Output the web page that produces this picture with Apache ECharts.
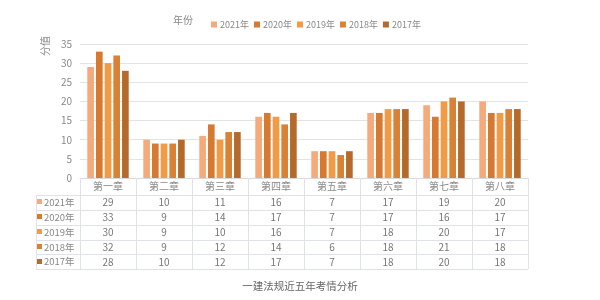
<!DOCTYPE html>
<html>
<head>
<meta charset="utf-8">
<script src="https://cdn.jsdelivr.net/npm/echarts@6/dist/echarts.min.js"></script>
<style>html,body{margin:0;padding:0;background:#fff;}#c{width:600px;height:300px;}</style>
</head>
<body>
<div id="c"></div>
<script>
const categories = ['第一章','第二章','第三章','第四章','第五章','第六章','第七章','第八章'];
const years = ['2021年','2020年','2019年','2018年','2017年'];
const s2021 = [29,10,11,16,7,17,19,20];
const s2020 = [33,9,14,17,7,17,16,17];
const s2019 = [30,9,10,16,7,18,20,17];
const s2018 = [32,9,12,14,6,18,21,18];
const s2017 = [28,10,12,17,7,18,20,18];
const seriesValues = [s2021, s2020, s2019, s2018, s2017];
const colors = ['#F5AA7C','#D77A30','#F39A45','#DA8138','#B56A2C'];
const yMax = 35, yStep = 5;
const chartTitle = '一建法规近五年考情分析';
const legendTitle = '年份';
const yName = '分值';

const font = '"Noto Sans CJK SC", "Noto Sans", sans-serif';
const GL = 80, GR = 528, GT = 44, GB = 178;
const rowTop = 195, rowH = 14.85, tableLeft = 36;

const chart = echarts.init(document.getElementById('c'));
const graphics = [];
graphics.push({type:'text', left:173, top:15, style:{text:legendTitle, fill:'#888', font:'10px '+font}});
graphics.push({type:'text', x:40, y:56, rotation:Math.PI/2, style:{text:yName, fill:'#888', font:'10px '+font}});
graphics.push({type:'text', left:'center', top:281, style:{text:chartTitle, fill:'#666', font:'10.5px '+font}});
for (let i = 0; i <= years.length; i++) {
  const y = Math.round(rowTop + i*rowH) + 0.5;
  graphics.push({type:'line', shape:{x1:tableLeft, y1:y, x2:GR, y2:y}, style:{stroke:'#dfe3e8', lineWidth:1}});
}
graphics.push({type:'line', shape:{x1:tableLeft+0.5, y1:rowTop, x2:tableLeft+0.5, y2:Math.round(rowTop+years.length*rowH)+0.5}, style:{stroke:'#dfe3e8', lineWidth:1}});
years.forEach((yr, i) => {
  const cy = rowTop + (i+0.5)*rowH;
  graphics.push({type:'rect', shape:{x:37, y:Math.round(cy-3), width:5, height:5}, style:{fill:colors[i]}});
  graphics.push({type:'text', x:44, y:cy, style:{text:yr, fill:'#888', font:'9.5px '+font, textVerticalAlign:'middle'}});
});

const option = {
  animation: false,
  textStyle: {fontFamily: font},
  legend: {
    data: years, left: 206, top: 15, itemWidth: 6, itemHeight: 6, itemGap: 5,
    icon: 'rect', textStyle: {fontSize: 9, color: '#888', padding:[0,0,0,-2]}
  },
  grid: {left: GL, right: 600-GR, top: GT, bottom: 300-GB},
  xAxis: {
    type: 'category', data: categories, boundaryGap: true,
    axisLine: {show: true, lineStyle: {color: '#d9d9d9'}},
    axisTick: {show: true, interval: 0, length: Math.round(rowTop + years.length*rowH) - GB, lineStyle: {color: '#dfe3e8'}},
    axisLabel: {
      interval: 0, margin: 0,
      formatter: (v, idx) => '{h|' + v + '}\n' + seriesValues.map(s => '{v|' + s[idx] + '}').join('\n'),
      rich: {
        h: {fontSize: 10, color: '#888', lineHeight: 17, fontFamily: font},
        v: {fontSize: 10, color: '#777', lineHeight: rowH, fontFamily: font}
      }
    }
  },
  yAxis: {
    type: 'value', min: 0, max: yMax, interval: yStep,
    axisLine: {show: false}, axisTick: {show: false},
    axisLabel: {fontSize: 10, color: '#888', margin: 8},
    splitLine: {lineStyle: {color: '#e3e3e3'}}
  },
  series: years.map((yr, i) => ({
    name: yr, type: 'bar', data: seriesValues[i],
    barGap: '30%', barCategoryGap: '26%',
    itemStyle: {color: colors[i]}
  })),
  graphic: graphics
};
chart.setOption(option);
</script>
</body>
</html>
